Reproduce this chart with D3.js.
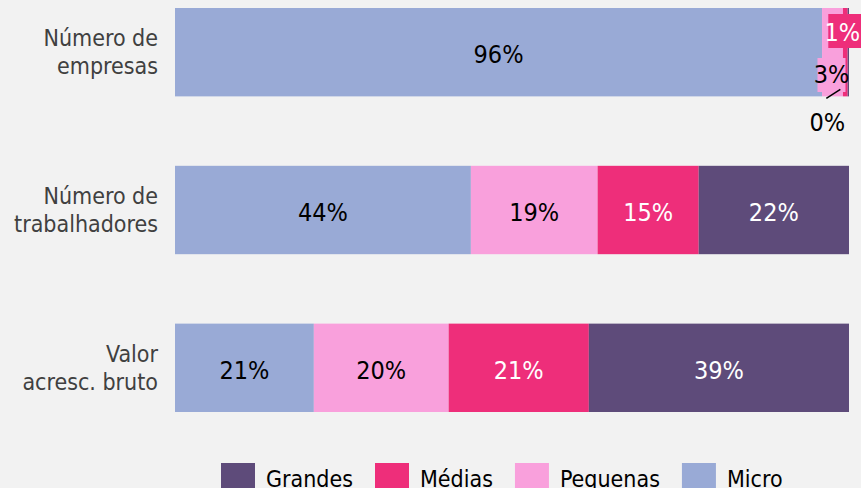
<!DOCTYPE html>
<html>
<head>
<meta charset="utf-8">
<script src="https://cdn.jsdelivr.net/npm/d3@7"></script>
<style>
  body { margin: 0; background: #f2f2f2; }
  svg { display: block; font-family: "DejaVu Sans Condensed", "DejaVu Sans", sans-serif; }
</style>
</head>
<body>
<div id="chart"></div>
<script>
// rows of the chart (each label is split on two lines)
var categories = ["Número de empresas", "Número de trabalhadores", "Valor acresc. bruto"];
var categoryLines = [["Número de", "empresas"], ["Número de", "trabalhadores"], ["Valor", "acresc. bruto"]];

// shares in %
var series = ["Micro", "Pequenas", "Médias", "Grandes"];
var micro    = [96.0, 43.9, 20.6];
var pequenas = [3.1, 18.8, 20.0];
var medias   = [0.7, 15.0, 20.8];
var grandes  = [0.2, 22.3, 38.6];

var legendOrder = ["Grandes", "Médias", "Pequenas", "Micro"];

var colors = {Micro: "#99aad6", Pequenas: "#f9a0dc", "Médias": "#ee2e7a", Grandes: "#5e4b7a"};
var textColors = {Micro: "#000", Pequenas: "#000", "Médias": "#fff", Grandes: "#fff"};

var W = 861, H = 488;

var data = categories.map(function(c, i) {
  return {cat: c, Micro: micro[i], Pequenas: pequenas[i], "Médias": medias[i], Grandes: grandes[i]};
});

var svg = d3.select("#chart").append("svg")
  .attr("width", W).attr("height", H);

svg.append("rect").attr("width", W).attr("height", H).attr("fill", "#f2f2f2");

var x = d3.scaleLinear().domain([0, 100]).range([175, 849]);
var y = d3.scaleBand().domain(categories).range([8, 412]).paddingInner(0.44).paddingOuter(0);

var stacked = d3.stack().keys(series)(data);

var layers = svg.append("g").selectAll("g")
  .data(stacked)
  .enter().append("g")
  .attr("fill", function(d) { return colors[d.key]; });

layers.selectAll("rect")
  .data(function(d) { return d; })
  .enter().append("rect")
  .attr("x", function(d) { return x(d[0]); })
  .attr("y", function(d) { return y(d.data.cat); })
  .attr("width", function(d) { return x(d[1]) - x(d[0]); })
  .attr("height", y.bandwidth());

// value labels
var labelG = svg.append("g").attr("font-size", 25).attr("text-anchor", "middle");

stacked.forEach(function(layer) {
  layer.forEach(function(d) {
    var key = layer.key;
    var val = Math.round(d[1] - d[0]) + "%";
    var cx = (x(d[0]) + x(d[1])) / 2;
    var top = y(d.data.cat), bot = top + y.bandwidth();
    var cy = top + y.bandwidth() / 2;
    var w = x(d[1]) - x(d[0]);
    if (w > 40) {
      labelG.append("text")
        .attr("x", cx).attr("y", cy + 2)
        .attr("dy", "0.36em")
        .attr("fill", textColors[key])
        .text(val);
      return;
    }
    // callouts for the thin segments
    if (key === "Médias") {
      labelG.append("rect").attr("x", cx - 17).attr("y", top + 6)
        .attr("width", 34).attr("height", 34).attr("fill", colors[key]);
      labelG.append("text").attr("x", cx - 3).attr("y", top + 24).attr("dy", "0.36em")
        .attr("fill", "#fff").text(val);
    } else if (key === "Pequenas") {
      labelG.append("rect").attr("x", cx - 15).attr("y", top + 50)
        .attr("width", 28).attr("height", 34).attr("fill", colors[key]);
      labelG.append("text").attr("x", cx - 1).attr("y", top + 66).attr("dy", "0.36em")
        .attr("fill", "#000").text(val);
    } else if (key === "Grandes") {
      labelG.append("line")
        .attr("x1", cx - 22).attr("y1", bot + 2)
        .attr("x2", cx - 8).attr("y2", bot - 7)
        .attr("stroke", "#000").attr("stroke-width", 1.5);
      labelG.append("text").attr("x", cx - 21).attr("y", bot + 26).attr("dy", "0.36em")
        .attr("fill", "#000").text(val);
    }
  });
});

// category labels
var catG = svg.append("g").attr("font-size", 23).attr("text-anchor", "end").attr("fill", "#404040");
categories.forEach(function(c, i) {
  var cy = y(c) + y.bandwidth() / 2;
  var t = catG.append("text").attr("x", 158).attr("y", cy - 14);
  categoryLines[i].forEach(function(line, j) {
    t.append("tspan").attr("x", 158).attr("dy", j === 0 ? "0.36em" : 28).text(line);
  });
});

// legend, laid out left to right (cut by the bottom edge, as in the original)
var leg = svg.append("g").attr("font-size", 23);
var lx = 221;
legendOrder.forEach(function(k) {
  var g = leg.append("g").attr("transform", "translate(" + lx + ",463)");
  g.append("rect").attr("width", 34).attr("height", 30).attr("fill", colors[k]);
  var t = g.append("text").attr("x", 45).attr("y", 24).attr("fill", "#000").text(k);
  lx += 45 + t.node().getComputedTextLength() + 22;
});
</script>
</body>
</html>
